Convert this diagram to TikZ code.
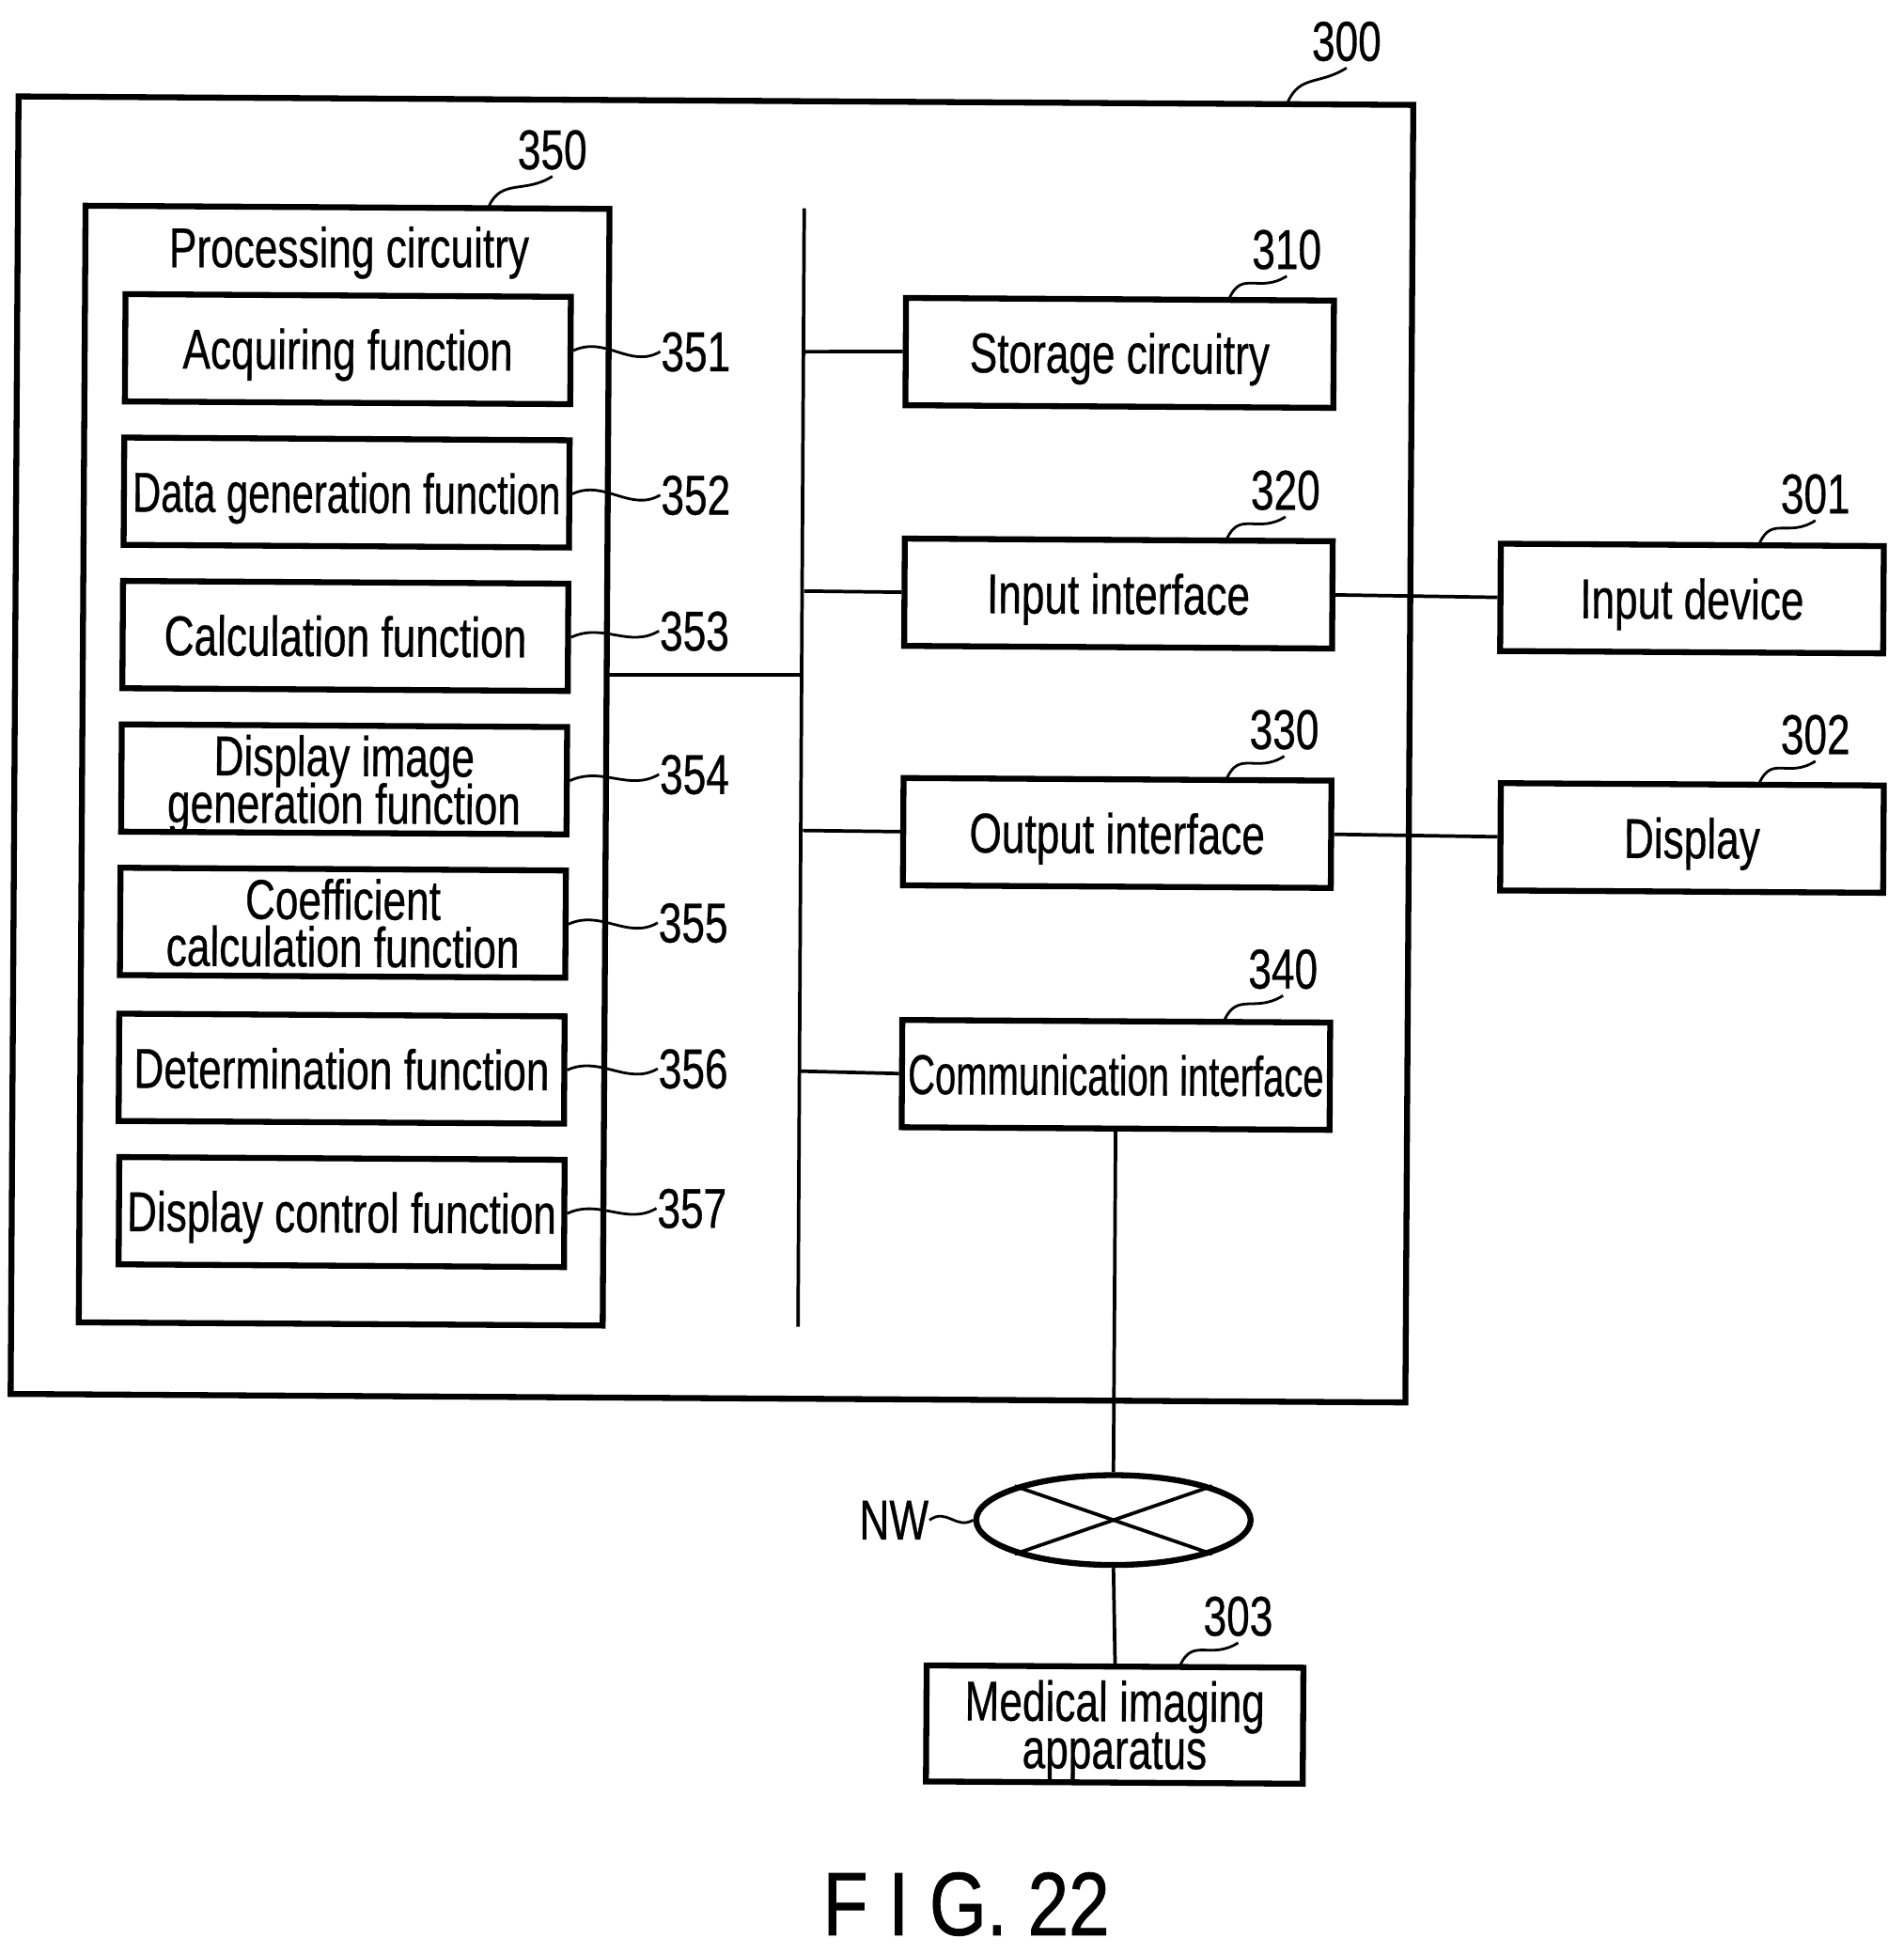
\documentclass[tikz,border=0pt]{standalone}
\usepackage{fontspec}
\setmainfont{Liberation Sans}
\usetikzlibrary{calc,shapes.geometric}
\newfontfamily\boxfont[FakeStretch=0.74,FakeBold=0.5]{Liberation Sans}
\newfontfamily\midfont[FakeStretch=0.70,FakeBold=0.5]{Liberation Sans}
\newfontfamily\tightfont[FakeStretch=0.67,FakeBold=0.5]{Liberation Sans}
\newfontfamily\figfont[FakeStretch=0.82,FakeBold=0.8]{Liberation Sans}
\lineskiplimit=-10pt
\newcommand{\tagside}[2]{\draw[leader] (#1.east) .. controls +(26,-12) and +(-24,14) .. (#2.west);}
\newcommand{\tagup}[3]{\draw[leader] ($(#1.north east)+(#2,0)$) .. controls +(10,-22) and +(-22,14) .. ($(#3.south)+(0,5)$);}
\tikzset{
	block/.style={draw,line width=1.35pt,rotate=-0.35,inner sep=0pt,align=center,text depth=0pt,
		font=\boxfont\fontsize{12.8}{10.8}\selectfont},
	fnbox/.style={block,minimum width=3.57cm,minimum height=.86cm},
	ifbox/.style={block,minimum width=3.43cm,minimum height=.86cm},
	devbox/.style={block,minimum width=3.07cm,minimum height=.86cm},
	mid/.style={font=\midfont\fontsize{12.8}{10.8}\selectfont},
	tight/.style={font=\tightfont\fontsize{12.8}{10.8}\selectfont},
	tagnum/.style={inner sep=0pt,text depth=0pt,font=\boxfont\fontsize{12.8}{12.8}\selectfont},
	leader/.style={line width=.6pt},
	wire/.style={line width=.8pt},
}
\begin{document}
\begin{tikzpicture}[x=.01cm,y=-.01cm]
	\useasboundingbox (0,0) rectangle (1527,1567);

	% boites englobantes
	\node[block,minimum width=11.18cm,minimum height=10.4cm] (dev) at (571,601) {};
	\node[block,minimum width=4.2cm,minimum height=8.95cm] (proc) at (276,614) {};
	\node[tagnum] (proclab) at (280,198) {Processing circuitry};

	% fonctions
	\node[fnbox] (acq) at (279,280) {Acquiring function};
	\node[fnbox,mid] (gen) at (278,395) {Data generation function};
	\node[fnbox] (calc) at (277,510) {Calculation function};
	\node[fnbox] (img) at (276,625) {Display image\\generation function};
	\node[fnbox] (coef) at (275,740) {Coefficient\\calculation function};
	\node[fnbox] (det) at (274,857) {Determination function};
	\node[fnbox] (ctl) at (274,972) {Display control function};

	% interfaces
	\node[ifbox] (sto) at (898,283) {Storage circuitry};
	\node[ifbox] (inp) at (897,476) {Input interface};
	\node[ifbox] (out) at (896,668) {Output interface};
	\node[ifbox,tight] (com) at (895,862) {Communication interface};

	% appareils
	\node[devbox] (idev) at (1357,480) {Input device};
	\node[devbox] (disp) at (1357,672) {Display};
	\node[block,minimum width=3.02cm,minimum height=.93cm] (med) at (894,1383) {Medical imaging\\apparatus};
	\node[draw,ellipse,line width=1.35pt,inner sep=0pt,minimum width=2.2cm,minimum height=.72cm] (nw) at (893,1219) {};

	% bus
	\coordinate (bustop) at (645,167);
	\coordinate (busbot) at (640,1064);
	\coordinate (bsto) at (645,282);
	\coordinate (binp) at (645,474);
	\coordinate (bout) at (644,666);
	\coordinate (bcom) at (642,859);
	\coordinate (pout) at (487,541);
	\coordinate (bproc) at (643,541);
	\draw[wire] (bustop) -- (busbot);
	\draw[wire] (bsto) -- (sto.west);
	\draw[wire] (binp) -- (inp.west);
	\draw[wire] (bout) -- (out.west);
	\draw[wire] (bcom) -- (com.west);
	\draw[wire] (pout) -- (bproc);

	\draw[wire] (inp.east) -- (idev.west);
	\draw[wire] (out.east) -- (disp.west);
	\draw[wire] (com.south) -- (nw.north);
	\draw[wire] (nw.south) -- (med.north);

	% croix du reseau
	\draw[wire] (nw.161) -- (nw.-19);
	\draw[wire] (nw.19) -- (nw.199);

	% numeros
	\node[tagnum] (t300) at (1080,33) {300};
	\node[tagnum] (t350) at (443,120) {350};
	\node[tagnum] (t310) at (1032,200) {310};
	\node[tagnum] (t320) at (1031,393) {320};
	\node[tagnum] (t330) at (1030,585) {330};
	\node[tagnum] (t340) at (1029,777) {340};
	\node[tagnum] (t301) at (1456,396) {301};
	\node[tagnum] (t302) at (1456,589) {302};
	\node[tagnum] (t303) at (993,1296) {303};
	\node[tagnum] (t351) at (558,282) {351};
	\node[tagnum] (t352) at (558,397) {352};
	\node[tagnum] (t353) at (557,506) {353};
	\node[tagnum] (t354) at (557,621) {354};
	\node[tagnum] (t355) at (556,740) {355};
	\node[tagnum] (t356) at (556,857) {356};
	\node[tagnum] (t357) at (555,969) {357};
	\node[tagnum] (tnw) at (717,1219) {NW};

	\tagup{dev}{-103}{t300}
	\tagup{proc}{-99}{t350}
	\tagup{sto}{-86}{t310}
	\tagup{inp}{-87}{t320}
	\tagup{out}{-86}{t330}
	\tagup{com}{-87}{t340}
	\tagup{idev}{-102}{t301}
	\tagup{disp}{-102}{t302}
	\tagup{med}{-101}{t303}

	\tagside{acq}{t351}
	\tagside{gen}{t352}
	\tagside{calc}{t353}
	\tagside{img}{t354}
	\tagside{coef}{t355}
	\tagside{det}{t356}
	\tagside{ctl}{t357}
	\draw[leader] (tnw.east) .. controls +(14,-10) and +(-14,8) .. (nw.west);

	% legende
	\node[inner sep=0pt,font=\figfont\fontsize{20.5}{20.5}\selectfont] (figlab) at (775,1527) {F I G. 22};
\end{tikzpicture}
\end{document}
